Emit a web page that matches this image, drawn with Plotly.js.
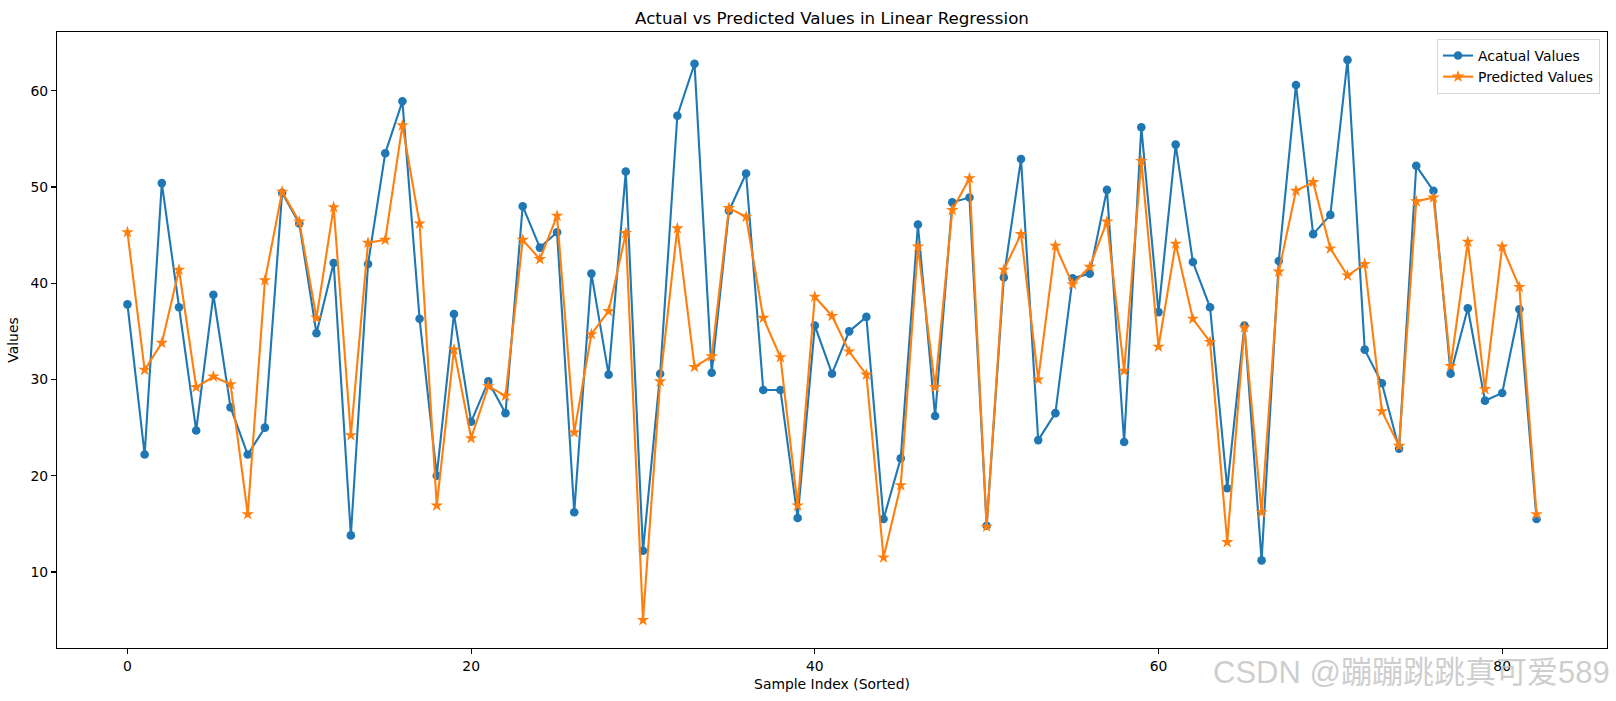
<!DOCTYPE html>
<html>
<head>
<meta charset="utf-8">
<script src="https://cdn.plot.ly/plotly-3.0.1.min.js"></script>
<style>
  html, body { margin: 0; padding: 0; background: #fff; }
  #chart { width: 1616px; height: 701px; }
</style>
</head>
<body>
<div id="chart"></div>
<script>
const sampleIndex = Array.from({length: 83}, (_, i) => i);

const actualValues = [37.8, 22.2, 50.4, 37.5, 24.7, 38.8, 27.1, 22.2, 25.0, 49.4,
  46.2, 34.8, 42.1, 13.8, 42.0, 53.5, 58.9, 36.3, 20.0, 36.8,
  25.6, 29.8, 26.5, 48.0, 43.7, 45.3, 16.2, 41.0, 30.5, 51.6,
  12.2, 30.6, 57.4, 62.8, 30.7, 47.5, 51.4, 28.9, 28.9, 15.6,
  35.6, 30.6, 35.0, 36.5, 15.5, 21.8, 46.1, 26.2, 48.4, 48.9,
  14.8, 40.6, 52.9, 23.7, 26.5, 40.5, 41.0, 49.7, 23.5, 56.2,
  37.0, 54.4, 42.2, 37.5, 18.7, 35.6, 11.2, 42.3, 60.6, 45.1,
  47.1, 63.2, 33.1, 29.6, 22.8, 52.2, 49.6, 30.6, 37.4, 27.8,
  28.6, 37.3, 15.5];

const predictedValues = [45.3, 31.0, 33.8, 41.4, 29.2, 30.3, 29.5, 16.0, 40.3, 49.5,
  46.4, 36.4, 47.9, 24.2, 44.2, 44.5, 56.4, 46.2, 16.9, 33.1,
  23.9, 29.3, 28.3, 44.5, 42.5, 47.0, 24.5, 34.7, 37.1, 45.2,
  5.0, 29.8, 45.7, 31.3, 32.4, 47.8, 46.9, 36.4, 32.3, 16.9,
  38.6, 36.6, 32.9, 30.5, 11.5, 19.0, 43.8, 29.2, 47.6, 50.9,
  14.7, 41.4, 45.1, 30.0, 43.9, 39.9, 41.7, 46.4, 30.9, 52.7,
  33.4, 44.1, 36.3, 33.9, 13.1, 35.4, 16.2, 41.2, 49.6, 50.5,
  43.6, 40.8, 42.0, 26.7, 23.1, 48.5, 48.9, 31.4, 44.3, 29.0,
  43.8, 39.6, 16.0];

const xTicks = [0, 20, 40, 60, 80];
const yTicks = [10, 20, 30, 40, 50, 60];

const FONT = 'DejaVu Sans, Verdana, sans-serif';

const traces = [
  {
    x: sampleIndex, y: actualValues, name: 'Acatual Values',
    type: 'scatter', mode: 'lines+markers',
    line: {color: '#1f77b4', width: 2.1},
    marker: {symbol: 'circle', size: 8.6, color: '#1f77b4'}
  },
  {
    x: sampleIndex, y: predictedValues, name: 'Predicted Values',
    type: 'scatter', mode: 'lines+markers',
    line: {color: '#ff7f0e', width: 2.1},
    marker: {symbol: 'star', size: 9.5, color: '#ff7f0e', line: {width: 0}}
  }
];

const axisCommon = {
  showgrid: false, zeroline: false,
  showline: true, linecolor: '#000', linewidth: 1.1, mirror: true,
  ticks: 'outside', ticklen: 4.9, tickwidth: 1.1, tickcolor: '#000',
  tickfont: {family: FONT, size: 13.9, color: '#000'}
};

const layout = {
  width: 1616, height: 701,
  paper_bgcolor: '#fff', plot_bgcolor: '#fff',
  margin: {l: 57, r: 9, t: 32, b: 53},
  font: {family: FONT, size: 13.9, color: '#000'},
  title: {
    text: 'Actual vs Predicted Values in Linear Regression',
    font: {family: FONT, size: 16.7, color: '#000'},
    x: 0.5, xref: 'paper', xanchor: 'center',
    y: 0.9735, yref: 'container', yanchor: 'middle'
  },
  xaxis: Object.assign({}, axisCommon, {
    range: [-4.1, 86.1],
    tickmode: 'array', tickvals: xTicks, ticktext: xTicks.map(String),
    title: {text: 'Sample Index (Sorted)', font: {family: FONT, size: 13.9, color: '#000'}, standoff: 6}
  }),
  yaxis: Object.assign({}, axisCommon, {
    range: [2.1, 66.1],
    tickmode: 'array', tickvals: yTicks, ticktext: yTicks.map(String),
    title: {text: 'Values', font: {family: FONT, size: 13.9, color: '#000'}, standoff: 8}
  }),
  showlegend: true,
  legend: {
    x: 0.9955, xanchor: 'right', y: 0.9886, yanchor: 'top',
    bgcolor: 'rgba(255,255,255,0.8)', bordercolor: '#d5d5d5', borderwidth: 1,
    font: {family: FONT, size: 13.9, color: '#000'},
    tracegroupgap: 0, itemwidth: 30
  },
  annotations: [{
    text: 'CSDN @蹦蹦跳跳真可爱589',
    xref: 'paper', yref: 'paper',
    x: 1.003, xanchor: 'right', y: -0.039, yanchor: 'middle',
    showarrow: false,
    font: {family: 'Liberation Sans, Noto Sans CJK SC, sans-serif', size: 31, color: 'rgba(190,190,190,0.75)'}
  }]
};

Plotly.newPlot('chart', traces, layout, {displayModeBar: false, staticPlot: true});
</script>
</body>
</html>
